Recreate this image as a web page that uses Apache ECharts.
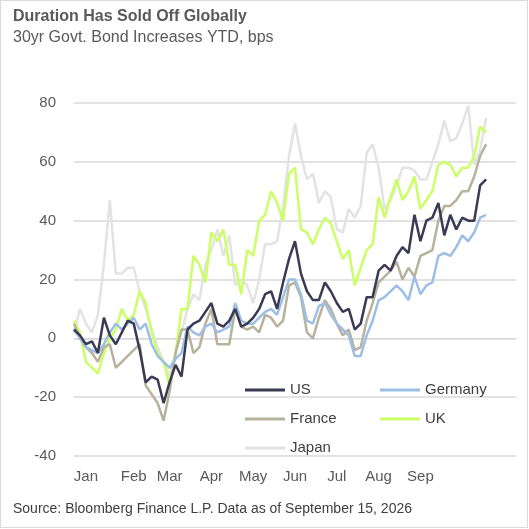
<!DOCTYPE html>
<html>
<head>
<meta charset="utf-8">
<script src="https://cdn.jsdelivr.net/npm/echarts@6/dist/echarts.min.js"></script>
<style>html,body{margin:0;padding:0;background:#fff}#c{width:529px;height:529px}</style>
</head>
<body>
<div id="c"></div>
<script>
// roughly two samples per week, Jan through mid-Sep; axis runs a bit past the data
const monthLabels = { 2: "Jan", 10: "Feb", 16: "Mar", 23: "Apr", 30: "May", 37: "Jun", 44: "Jul", 51: "Aug", 58: "Sep" };
const categories = [];
for (let i = 0; i < 75; i++) categories.push(monthLabels[i] || "");

const us = [3, 1, -2, -1, -5, 7, 1, -2, 2, 6, 5, -4, -15, -13, -14, -22, -15, -9, -13, 3, 5, 6, 9, 12, 5, 4, 6, 10, 4, 5, 7, 10, 15, 16, 10, 19, 27, 33,
  22, 16, 13, 13, 19, 16, 12, 9, 10, 3, 5, 14, 14, 23, 25, 23, 28, 31, 29, 42, 33, 40, 41, 46, 35, 42, 37, 41, 40, 40, 52, 54];
const germany = [3, 0, -3, -4, -5, -2, 2, 5, 3, 5, 7, 3, 5, -2, -6, -8, -10, -7, -5, 4, 2, 1, 4, 5, 2, 3, 4, 12, 6, 5, 5, 7, 9, 10, 8, 14, 20, 20,
  15, 6, 5, 11, 12, 8, 5, 3, 1, -6, -6, 1, 6, 13, 14, 16, 18, 16, 13, 21, 15, 18, 19, 28, 29, 28, 31, 35, 33, 36, 41, 42];
const france = [5, 0, -3, -5, -8, -3, -2, -10, -8, -6, -4, -2, -16, -19, -22, -28, -18, -5, 3, 3, -5, -3, 5, 10, -2, -2, -2, 10, 4, 3, 4, 2, 8, 7, 4, 6, 18, 19,
  14, 2, 0, 7, 13, 10, 5, 1, 3, -4, -3, 6, 12, 19, 21, 23, 26, 20, 24, 21, 28, 29, 30, 40, 45, 45, 47, 50, 50, 55, 62, 66];
const uk = [6, 2, -8, -10, -12, -5, 0, 3, 10, 6, 8, 16, 12, 2, -5, -8, -16, -5, 10, 10, 28, 25, 19, 36, 33, 37, 25, 25, 15, 30, 28, 40, 42, 50, 46, 40, 56, 58,
  37, 36, 32, 37, 41, 39, 33, 27, 30, 18, 24, 30, 32, 48, 41, 48, 54, 47, 50, 55, 44, 47, 50, 59, 60, 59, 55, 58, 58, 62, 72, 70];
const japan = [2, 10, 5, 2, 8, 25, 47, 22, 22, 24, 24, 16, 10, 3, -3, -8, -13, -5, 2, 10, 15, 13, 25, 30, 37, 28, 35, 18, 20, 18, 12, 20, 32, 32, 33, 45, 62, 73,
  62, 54, 56, 46, 50, 48, 37, 36, 44, 41, 45, 63, 66, 58, 44, 47, 52, 58, 58, 57, 54, 54, 60, 66, 74, 67, 68, 73, 79, 59, 64, 75];

const chart = echarts.init(document.getElementById("c"));
const font = "Liberation Sans, Arial, sans-serif";
const line = (name, data, color) => ({
  name, type: "line", data, symbol: "none", smooth: false,
  lineStyle: { color, width: 2.5 }, itemStyle: { color }
});

chart.setOption({
  animation: false,
  backgroundColor: "#fff",
  textStyle: { fontFamily: font },
  title: [
    { text: "Duration Has Sold Off Globally", left: 8, top: 4,
      textStyle: { fontFamily: font, fontSize: 16, fontWeight: "bold", color: "#595959" } },
    { text: "30yr Govt. Bond Increases YTD, bps", left: 8, top: 25,
      textStyle: { fontFamily: font, fontSize: 16, fontWeight: "normal", color: "#595959" } },
    { text: "Source: Bloomberg Finance L.P. Data as of September 15, 2026", left: 8, top: 497,
      textStyle: { fontFamily: font, fontSize: 14, fontWeight: "normal", color: "#404040" } }
  ],
  graphic: [{ type: "rect", shape: { x: 0.5, y: 0.5, width: 527, height: 527 },
    style: { fill: "none", stroke: "#d9d9d9", lineWidth: 1 }, silent: true }],
  legend: {
    left: 240, top: 373, width: 280, orient: "horizontal",
    itemWidth: 40, itemHeight: 3, itemGap: 5, icon: "rect",
    textStyle: { fontFamily: font, fontSize: 15, color: "#404040", width: 85, lineHeight: 24 },
    data: ["US", "Germany", "France", "UK", "Japan"]
  },
  grid: { left: 74, right: 13, top: 103, bottom: 73 },
  xAxis: {
    type: "category", data: categories, boundaryGap: false,
    axisLine: { lineStyle: { color: "#d9d9d9" } }, axisTick: { show: false },
    axisLabel: { interval: 0, fontSize: 15, color: "#595959", margin: 13 }
  },
  yAxis: {
    type: "value", min: -40, max: 80, interval: 20,
    axisLine: { show: false }, axisTick: { show: false },
    axisLabel: { fontSize: 15, color: "#595959", margin: 18 },
    splitLine: { lineStyle: { color: "#d9d9d9", width: 1.5 } }
  },
  series: [
    line("Japan", japan, "#e3e3e3"),
    line("UK", uk, "#ccff66"),
    line("France", france, "#b7b29b"),
    line("Germany", germany, "#9dbfe6"),
    line("US", us, "#3b3a54")
  ]
});
</script>
</body>
</html>
